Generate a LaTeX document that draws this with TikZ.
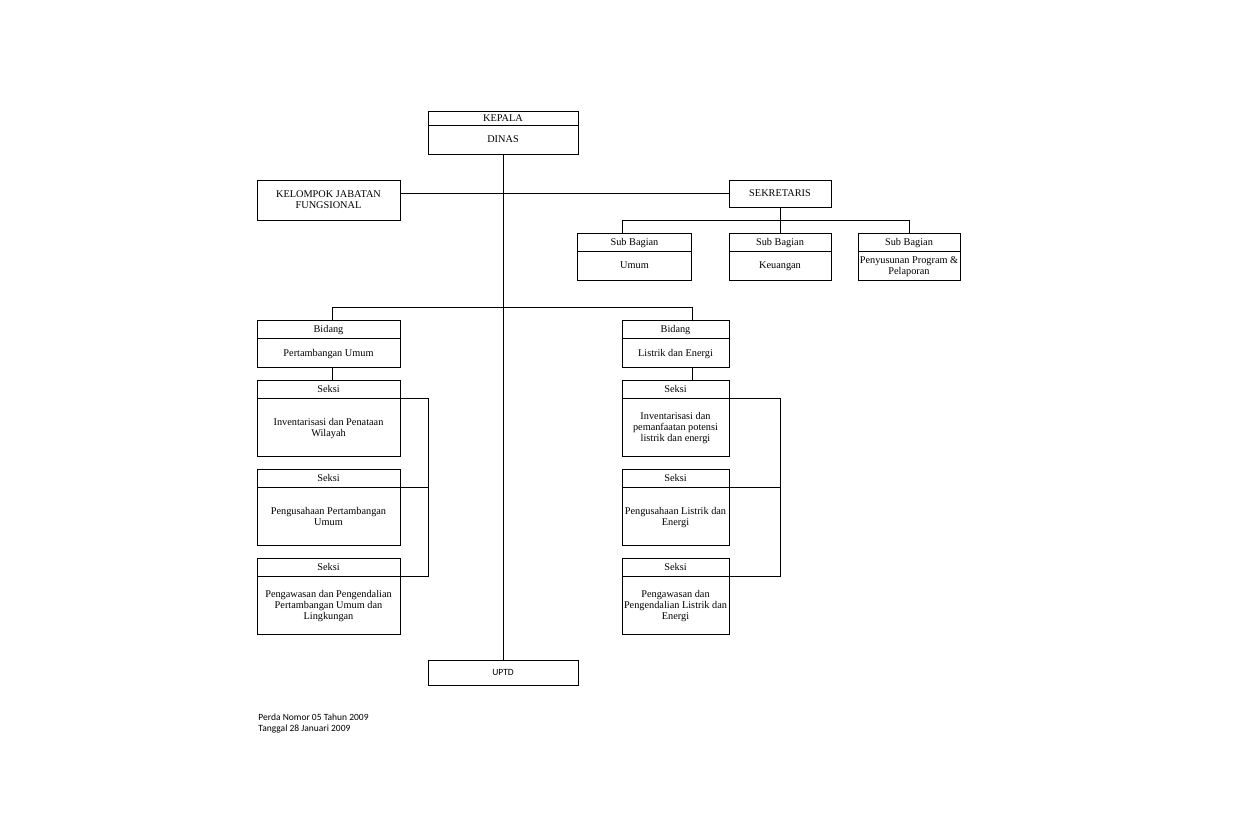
\documentclass[tikz,border=0pt]{standalone}
\usepackage{fontspec}
\setmainfont{Liberation Serif}
\newfontfamily\calfont{Carlito}
\usepackage{tikz}
\usetikzlibrary{calc}

\begin{document}
\begin{tikzpicture}[
    x=1pt, y=-1pt,
    line width=0.9pt,
    box/.style={draw, rectangle, outer sep=0pt, inner sep=1pt, align=center,
      text depth=0pt, font=\fontsize{10.3}{11}\selectfont},
    wL/.style={minimum width=143pt},
    wR/.style={minimum width=107pt},
    wS/.style={minimum width=102pt},
    wK/.style={minimum width=150pt},
    hd/.style={minimum height=18pt},
    bd/.style={minimum height=29pt},
    sx/.style={minimum height=58pt},
    note/.style={anchor=west, inner sep=0pt, font=\calfont\fontsize{9.5}{11}\selectfont}
  ]
    \fill[white] (0,0) rectangle (1248,816);
    \useasboundingbox (0,0) rectangle (1248,816);

    % pimpinan
    \node[box,wK,minimum height=14pt] (kepH) at (503,118) {KEPALA};
    \node[box,wK,bd] (kep) at (503,139.5) {DINAS};
    \node[box,wL,minimum height=40pt] (kjf) at (328.5,200) {KELOMPOK JABATAN\\FUNGSIONAL};
    \node[box,wS,minimum height=27pt] (sek) at (780,193.5) {SEKRETARIS};

    % sub bagian
    \node[box,minimum width=114pt,hd] (sb1H) at (634.5,242) {Sub Bagian};
    \node[box,minimum width=114pt,bd] (sb1) at (634.5,265.5) {Umum};
    \node[box,wS,hd] (sb2H) at (780,242) {Sub Bagian};
    \node[box,wS,bd] (sb2) at (780,265.5) {Keuangan};
    \node[box,wS,hd] (sb3H) at (909,242) {Sub Bagian};
    \node[box,wS,bd,inner sep=0pt] (sb3) at (909,265.5) {Penyusunan Program \&\\Pelaporan};

    % bidang
    \node[box,wL,hd] (bd1H) at (328.5,329) {Bidang};
    \node[box,wL,bd] (bd1) at (328.5,352.5) {Pertambangan Umum};
    \node[box,wR,hd] (bd2H) at (675.5,329) {Bidang};
    \node[box,wR,bd] (bd2) at (675.5,352.5) {Listrik dan Energi};

    % seksi kiri
    \node[box,wL,hd] (sL1H) at (328.5,389) {Seksi};
    \node[box,wL,sx] (sL1) at (328.5,427) {Inventarisasi dan Penataan\\Wilayah};
    \node[box,wL,hd] (sL2H) at (328.5,478) {Seksi};
    \node[box,wL,sx] (sL2) at (328.5,516) {Pengusahaan Pertambangan\\Umum};
    \node[box,wL,hd] (sL3H) at (328.5,567) {Seksi};
    \node[box,wL,sx] (sL3) at (328.5,605) {Pengawasan dan Pengendalian\\Pertambangan Umum dan\\Lingkungan};

    % seksi kanan
    \node[box,wR,hd] (sR1H) at (675.5,389) {Seksi};
    \node[box,wR,sx] (sR1) at (675.5,427) {Inventarisasi dan\\pemanfaatan potensi\\listrik dan energi};
    \node[box,wR,hd] (sR2H) at (675.5,478) {Seksi};
    \node[box,wR,sx] (sR2) at (675.5,516) {Pengusahaan Listrik dan\\Energi};
    \node[box,wR,hd] (sR3H) at (675.5,567) {Seksi};
    \node[box,wR,sx,inner sep=0pt] (sR3) at (675.5,605) {Pengawasan dan\\Pengendalian Listrik dan\\Energi};

    \node[box,wK,minimum height=25pt,font=\calfont\fontsize{9.5}{11}\selectfont] (uptd) at (503,672.5) {UPTD};

    \node[note] (perda) at (258,717) {Perda Nomor 05 Tahun 2009};
    \node[note] (tgl) at (258,729) {Tanggal 28 Januari 2009};

    % garis
    \coordinate (sbJ) at (622,220);
    \coordinate (bdL) at (332,307);
    \coordinate (bdR) at (692,307);
    \coordinate (brL) at (428,398);
    \coordinate (brR) at (780,398);

    \draw (kep.south) -- (uptd.north);
    \draw (kjf.east |- sek.west) -- (sek.west);
    \draw (sek.south) -- (sb2H.north);
    \draw (sbJ |- sb1H.north) -- (sbJ) -| (sb3H.north);
    \draw (bdL |- bd1H.north) -- (bdL) -- (bdR) -- (bdR |- bd2H.north);
    \draw (bdL |- bd1.south) -- (bdL |- sL1H.north);
    \draw (bdR |- bd2.south) -- (bdR |- sR1H.north);
    \draw (sL1H.south east) -- (brL |- sL1H.south east) -- (brL |- sL3H.south east) -- (sL3H.south east);
    \draw (sL2H.south east) -- (brL |- sL2H.south east);
    \draw (sR1H.south east) -- (brR |- sR1H.south east) -- (brR |- sR3H.south east) -- (sR3H.south east);
    \draw (sR2H.south east) -- (brR |- sR2H.south east);
\end{tikzpicture}
\end{document}
